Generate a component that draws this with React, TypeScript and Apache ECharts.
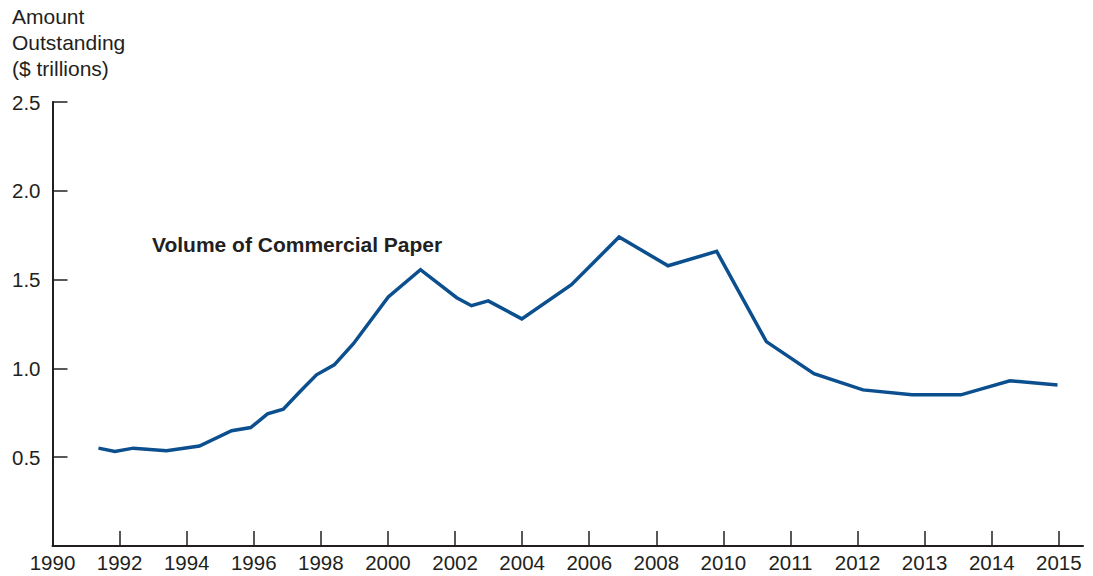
import React, { useEffect, useRef } from "react";
import * as echarts from "echarts";

// Axis tick labels (evenly spaced on the axis, although the year steps change after 2010)
const tickYears = [1990, 1992, 1994, 1996, 1998, 2000, 2002, 2004, 2006, 2008, 2010, 2011, 2012, 2013, 2014, 2015];
const tickLabels = tickYears.map(String);

// Volume of commercial paper ($ trillions)
const years = [
  1991.37, 1991.86, 1992.41, 1993.4, 1994.38, 1995.34, 1995.91, 1996.41, 1996.88, 1997.38,
  1997.87, 1998.4, 1998.97, 2000.01, 2000.97, 2002.05, 2002.49, 2002.99, 2003.99, 2005.47,
  2006.89, 2008.35, 2009.8, 2010.64, 2011.35, 2012.08, 2012.81, 2013.54, 2014.27, 2014.98,
];
const values = [
  0.551, 0.532, 0.551, 0.537, 0.563, 0.649, 0.667, 0.744, 0.77, 0.87,
  0.964, 1.02, 1.139, 1.402, 1.556, 1.398, 1.353, 1.38, 1.279, 1.471,
  1.74, 1.578, 1.659, 1.151, 0.97, 0.879, 0.851, 0.851, 0.93, 0.907,
];
const yTicks = [0.5, 1.0, 1.5, 2.0, 2.5];

// Piecewise-linear mapping from a year to the axis position (one unit per tick)
function yearToPos(y: number): number {
  for (let i = 0; i < tickYears.length - 1; i++) {
    const a = tickYears[i];
    const b = tickYears[i + 1];
    if (y <= b || i === tickYears.length - 2) {
      return i + (y - a) / (b - a);
    }
  }
  return tickYears.length - 1;
}

const TEXT = "#231f20";
const FONT = "'Liberation Sans', Arial, Helvetica, sans-serif";

export default function App() {
  const ref = useRef<HTMLDivElement>(null);
  useEffect(() => {
    if (!ref.current) return;
    const chart = echarts.init(ref.current, undefined, { renderer: "svg" });
    const tickPos = tickYears.map((_, i) => i);
    chart.setOption({
      animation: false,
      backgroundColor: "#ffffff",
      textStyle: { fontFamily: FONT, color: TEXT },
      title: {
        text: "Amount\nOutstanding\n($ trillions)",
        left: 12,
        top: 3,
        padding: 0,
        textStyle: { fontFamily: FONT, fontSize: 21, fontWeight: "normal", color: TEXT, lineHeight: 26 },
      },
      grid: { left: 52.5, right: 10, top: 102, bottom: 30, containLabel: false },
      xAxis: {
        type: "value",
        min: 0,
        max: 15.36,
        interval: 1,
        splitLine: { show: false },
        axisLine: { show: true, lineStyle: { color: TEXT, width: 2 } },
        axisTick: {
          show: true,
          inside: true,
          length: 15,
          customValues: tickPos.slice(1),
          lineStyle: { color: TEXT, width: 1.5 },
        },
        axisLabel: {
          customValues: tickPos,
          formatter: (v: number) => tickLabels[Math.round(v)] ?? "",
          fontSize: 20.5,
          color: TEXT,
          fontFamily: FONT,
          margin: 6,
        },
      },
      yAxis: {
        type: "value",
        min: 0,
        max: 2.5,
        interval: 0.5,
        splitLine: { show: false },
        axisLine: { show: true, lineStyle: { color: TEXT, width: 2 } },
        axisTick: {
          show: true,
          inside: true,
          length: 15,
          customValues: yTicks,
          lineStyle: { color: TEXT, width: 1.5 },
        },
        axisLabel: {
          customValues: yTicks,
          formatter: (v: number) => v.toFixed(1),
          fontSize: 20.5,
          color: TEXT,
          fontFamily: FONT,
          margin: 12,
        },
      },
      graphic: [
        {
          type: "text",
          left: 152,
          top: 234,
          style: {
            text: "Volume of Commercial Paper",
            font: `bold 21px ${FONT}`,
            fill: TEXT,
          },
        },
      ],
      series: [
        {
          type: "line",
          data: years.map((y, i) => [yearToPos(y), values[i]]),
          showSymbol: false,
          lineStyle: { color: "#0b4f8e", width: 3.5, join: "miter" },
          smooth: false,
        },
      ],
    });
    return () => chart.dispose();
  }, []);
  return (
    <div
      ref={ref}
      style={{ position: "absolute", left: 0, top: 0, width: 1093, height: 576 }}
    />
  );
}
